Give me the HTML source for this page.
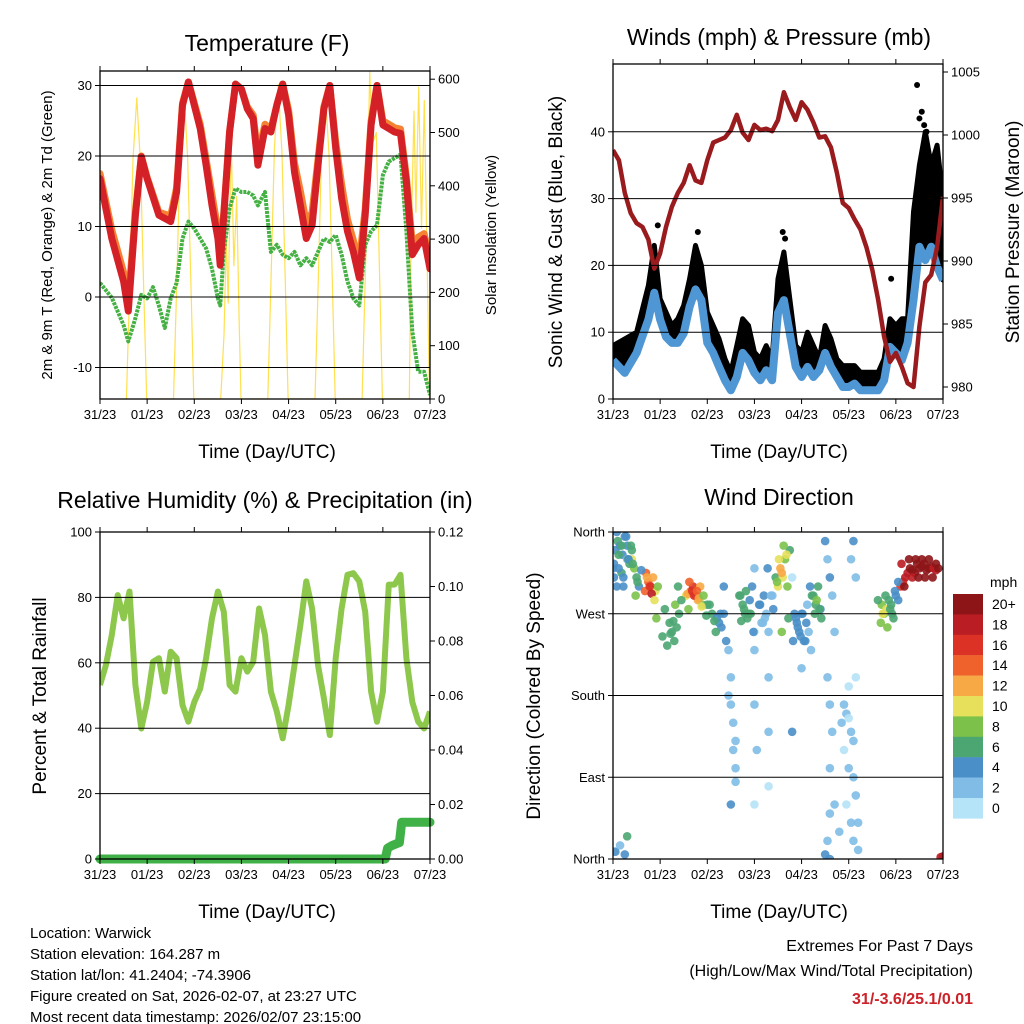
<!DOCTYPE html>
<html><head><meta charset="utf-8"><style>
html,body{margin:0;padding:0;background:#fff;}
svg{display:block;font-family:"Liberation Sans",sans-serif;}
</style></head><body>
<svg id="c" width="1024" height="1024" viewBox="0 0 1024 1024">
<rect x="0" y="0" width="1024" height="1024" fill="#fff"/>
<text x="267" y="51" font-size="23" text-anchor="middle">Temperature (F)</text>
<text x="779" y="45" font-size="23" text-anchor="middle">Winds (mph) &amp; Pressure (mb)</text>
<text x="265" y="508" font-size="23" text-anchor="middle">Relative Humidity (%) &amp; Precipitation (in)</text>
<text x="779" y="505" font-size="23" text-anchor="middle">Wind Direction</text>
<text x="267" y="458" font-size="19" text-anchor="middle">Time (Day/UTC)</text>
<text x="779" y="458" font-size="19" text-anchor="middle">Time (Day/UTC)</text>
<text x="267" y="918" font-size="19" text-anchor="middle">Time (Day/UTC)</text>
<text x="779" y="918" font-size="19" text-anchor="middle">Time (Day/UTC)</text>
<text transform="translate(52,235) rotate(-90)" font-size="15" text-anchor="middle">2m &amp; 9m T (Red, Orange) &amp; 2m Td (Green)</text>
<text transform="translate(496,235) rotate(-90)" font-size="15" text-anchor="middle">Solar Insolation (Yellow)</text>
<text transform="translate(562,232) rotate(-90)" font-size="19" text-anchor="middle">Sonic Wind &amp; Gust (Blue, Black)</text>
<text transform="translate(1019,232) rotate(-90)" font-size="19" text-anchor="middle">Station Pressure (Maroon)</text>
<text transform="translate(46,696) rotate(-90)" font-size="19" text-anchor="middle">Percent &amp; Total Rainfall</text>
<text transform="translate(540,696) rotate(-90)" font-size="19" text-anchor="middle">Direction (Colored By Speed)</text>
<g font-size="15">
<text x="30" y="938">Location: Warwick</text>
<text x="30" y="959">Station elevation: 164.287 m</text>
<text x="30" y="980">Station lat/lon: 41.2404; -74.3906</text>
<text x="30" y="1001">Figure created on Sat, 2026-02-07, at 23:27 UTC</text>
<text x="30" y="1022">Most recent data timestamp: 2026/02/07 23:15:00</text>
</g>
<text x="973" y="951" font-size="16" text-anchor="end">Extremes For Past 7 Days</text>
<text x="973" y="976" font-size="16" text-anchor="end">(High/Low/Max Wind/Total Precipitation)</text>
<text x="973" y="1004" font-size="16" font-weight="bold" fill="#cc2229" text-anchor="end">31/-3.6/25.1/0.01</text>
</svg>
<script>
const dayLabels=['31/23','01/23','02/23','03/23','04/23','05/23','06/23','07/23'];
// Temperature
const tempT=[0,.25,.5,.6,.75,.875,1,1.25,1.5,1.625,1.75,1.875,2,2.125,2.25,2.375,2.5,2.55,2.625,2.75,2.875,3,3.125,3.25,3.35,3.5,3.625,3.75,3.875,4,4.125,4.25,4.375,4.5,4.625,4.75,4.875,5,5.125,5.25,5.375,5.5,5.625,5.75,5.875,6,6.125,6.25,6.375,6.5,6.625,6.75,6.875,7];
const temp2m=[16.8,8.3,2.2,-2,11.6,19.9,16.8,11.6,10.7,14.9,27.2,30.5,27.2,23.9,18.7,13.0,8.3,4.5,11.6,23.4,30.2,29.5,26.7,25.3,18.7,23.9,23.4,27.2,30.2,25.8,17.7,13.0,8.3,10.2,18.7,26.7,30.0,21.1,14.0,9.3,6.4,2.7,11.6,24.4,30.0,24.4,23.9,23.4,23.2,16.3,6.0,7.4,8.3,4.0];
const temp9m=[17.5,9.5,3.5,-0.5,12,20,17,12,11.5,15.5,27.5,30.5,27.5,24.5,19.5,14.5,9.5,6,12,23.5,30.2,29.5,27,25.8,20,24.5,23.8,27.2,30.2,26.5,19,15,10.5,12,19.5,27,30,22,16,11,8,5,12.5,25,30,25,24.5,24,23.8,17,7.5,8.5,9,5];
const dewT=[0,.25,.5,.6,.75,.875,1,1.125,1.25,1.375,1.5,1.625,1.75,1.875,2,2.125,2.25,2.375,2.5,2.55,2.625,2.75,2.875,3,3.125,3.25,3.35,3.5,3.625,3.75,3.875,4,4.125,4.25,4.375,4.5,4.625,4.75,4.875,5,5.125,5.25,5.375,5.5,5.625,5.75,5.875,6,6.125,6.25,6.375,6.5,6.625,6.75,6.875,7];
const dewV=[2.0,-0.1,-4,-6.3,-3,0.3,-0.2,1.4,-1.2,-4.4,-0.2,2.0,8.3,10.7,9.7,8.3,6.9,4.0,-0.2,-1.2,6.4,12.6,15.4,14.9,14.9,14.4,13.0,14.9,6.4,7.4,6.0,5.5,6.4,4.5,5.5,4.5,6.4,8.3,7.8,8.8,6.0,2.2,-0.2,-1.2,7.4,9.3,10.2,17.3,19.2,19.7,20.2,9.3,-4.9,-10.6,-10.6,-13.9];
const solarT=[.56,.63,.7,.78,.86,.93,.99,1.56,1.63,1.7,1.78,1.86,1.93,1.99,2.56,2.63,2.68,2.72,2.78,2.84,2.9,2.95,2.99,3.56,3.63,3.7,3.78,3.86,3.93,3.99,4.56,4.63,4.7,4.78,4.86,4.93,4.99,5.56,5.63,5.68,5.72,5.78,5.86,5.93,5.99,6.56,6.6,6.66,6.7,6.76,6.82,6.88,6.94,6.99];
const solarV=[0,210,450,565,440,200,0,0,220,460,580,450,210,0,0,120,300,180,490,250,380,150,0,0,230,470,590,460,220,0,0,225,465,580,455,215,0,0,240,420,615,480,500,230,0,0,300,540,350,585,320,560,250,0];
const tempTicks=[30,20,10,0,-10];
const solarTicks=[0,100,200,300,400,500,600];
// Winds
const windT=[0,.25,.5,.75,.875,1,1.125,1.25,1.375,1.5,1.625,1.75,1.875,2,2.125,2.25,2.375,2.5,2.625,2.75,2.875,3,3.125,3.25,3.375,3.5,3.625,3.75,3.875,4,4.125,4.25,4.375,4.5,4.625,4.75,4.875,5,5.125,5.25,5.375,5.5,5.625,5.75,5.875,6,6.125,6.25,6.375,6.5,6.625,6.75,6.875,7];
const windV=[5.8,3.9,6.9,11.9,15.9,11.9,9.3,8.4,8.4,9.8,13.8,16.4,14.8,8.4,6.9,4.8,2.8,1.3,3.3,6.9,5.8,3.9,2.8,4.3,2.8,12.9,14.8,9.8,4.8,3.3,4.8,3.3,4.3,6.9,4.8,3.3,1.8,1.8,2.3,1.3,1.3,1.3,1.3,2.8,7.8,6.9,5.8,8.4,14.8,22.8,20.8,22.8,19.8,17.8];
const gustV=[8,9,10,17,23,15,13,11,12,14,18,23,20,13,11,9,6,4,8,12,11,7,6,8,6,18,22,15,8,7,10,8,6,11,9,6,5,5,5,4,4,4,4,6,12,11,12,12,28,35,40,35,38,30];
const gustOutT=[6.45,6.5,6.55,6.6,6.65,0.95,1.8,3.6,3.65,5.9];
const gustOutV=[47,42,43,41,40,26,25,25,24,18];
const pressT=[0,.125,.25,.375,.5,.625,.75,.875,1,1.125,1.25,1.375,1.5,1.625,1.75,1.875,2,2.125,2.25,2.375,2.5,2.625,2.75,2.875,3,3.125,3.25,3.375,3.5,3.625,3.75,3.875,4,4.125,4.25,4.375,4.5,4.625,4.75,4.875,5,5.125,5.25,5.375,5.5,5.625,5.75,5.875,6,6.125,6.25,6.375,6.5,6.625,6.75,6.875,7];
const pressV=[998.8,998.0,995.4,993.8,993.0,992.7,991.7,989.4,990.6,992.7,994.3,995.4,996.2,997.6,996.4,996.2,998.0,999.4,999.6,999.8,1000.4,1001.6,1000.2,999.6,1000.8,1000.4,1000.5,1000.3,1001.2,1003.4,1002.2,1001.2,1002.6,1002.0,1001.0,999.8,999.9,999.0,997.0,994.6,994.2,993.3,992.5,991.1,989.3,986.9,984.0,982.0,982.7,981.6,980.3,980.0,984.8,988.3,988.9,991.1,995.1];
const windTicks=[0,10,20,30,40];
const pressTicks=[980,985,990,995,1000,1005];
// Humidity & precipitation
const rhT=[0,.125,.25,.375,.5,.625,.75,.875,1,1.125,1.25,1.375,1.5,1.625,1.75,1.875,2,2.125,2.25,2.375,2.5,2.625,2.75,2.875,3,3.125,3.25,3.375,3.5,3.625,3.75,3.875,4,4.125,4.25,4.375,4.5,4.625,4.75,4.875,5,5.125,5.25,5.375,5.5,5.625,5.75,5.875,6,6.125,6.25,6.375,6.5,6.625,6.75,6.875,7];
const rhV=[53.2,59.3,68.5,80.7,73.6,81.8,53.2,39.9,48.0,60.3,61.4,51.2,63.4,61.4,47.1,42.0,48.0,52.1,61.4,73.6,81.8,75.6,53.2,51.2,61.4,57.3,60.3,76.6,68.5,51.2,45.1,36.9,47.1,59.3,71.6,84.9,76.6,59.3,49.1,37.9,61.4,76.6,86.9,87.4,84.9,75.6,51.2,42.0,51.2,83.9,83.9,86.9,61.4,48.0,42.0,39.9,45.1];
const precipT=[0,6.05,6.1,6.2,6.35,6.4,7];
const precipV=[0,0,0.004,0.005,0.006,0.0135,0.0135];
const rhTicks=[0,20,40,60,80,100];
const precipTicks=['0.00','0.02','0.04','0.06','0.08','0.10','0.12'];
// Wind direction (sparse scattered obs)
const dirTa=[0,.05,.1,.15,.2,.25,.3,.35,.4,.45,.5,.55,.7,.75,.8,.85,.9,.95,1.1,1.2,1.25,1.3,1.35,1.4,1.55,1.65,1.7,1.75,1.8,1.85,1.9,2.0,2.1,2.2,2.25,2.3,2.45,2.5,2.5,2.55,2.55,2.6,2.6,2.5,2.45,2.4,2.6,2.7,2.75,2.8,2.85,2.9,2.95,3.0,3.0,3.0,3.05,3.0,3.0,3.1,3.15,3.2,3.25,3.3,3.3,3.3,3.3,3.35,3.4,3.45,3.5,3.55,3.6,3.65,3.7,3.75,3.85,3.9,3.95,4.0,4.05,4.1,4.15,4.2,4.0,3.8,3.8,4.25,4.3,4.35,4.4,4.5,4.55,4.6,4.65,4.7,4.55,4.6,4.65,4.6,4.6,4.55,4.5,4.6,4.7,4.85,4.9,4.95,5.0,5.05,5.1,4.9,5.0,5.1,4.95,5.05,5.1,4.8,5.0,5.15,5.15,5.2,5.2,5.05,5.1,5.15,5.7,5.75,5.8,5.85,5.9,5.95,6.0,6.05,6.1,6.15,6.2,6.25,6.3,6.35,6.4,6.45,6.5,6.55,6.6,6.65,6.7,6.75,6.8,6.85,6.9,6.95,7.0,0.05,0.15,0.25,0.3,0.4,0.3,0.08,0.18,0.02,0.12,0.22,0.32];
const dirVa=[320,340,350,345,335,355,330,325,340,320,310,300,315,305,300,310,295,300,275,260,250,240,255,270,290,295,300,290,285,300,280,280,270,265,260,255,230,200,170,150,120,100,85,60,180,240,130,290,280,270,265,285,300,320,250,170,120,230,60,280,260,290,270,250,200,140,80,290,275,310,300,320,310,330,300,340,270,260,250,270,240,260,250,230,210,310,140,290,280,300,275,350,330,310,290,250,200,170,140,100,50,20,5,0,60,150,170,160,155,140,130,120,100,90,60,40,20,30,190,200,70,40,10,330,350,310,280,270,275,285,280,265,290,285,300,305,310,315,320,318,315,325,320,322,325,318,320,322,320,318,320,2,3,8,15,5,25,330,345,300,315,325,335];
const dirSa=[4,5,6,5,4,5,3,6,7,8,7,5,14,15,17,12,10,8,7,7,6,6,7,6,10,14,16,16,12,12,8,6,6,5,4,4,2,3,2,3,2,2,3,4,3,4,2,6,6,7,6,5,4,2,1,2,2,2,1,4,3,4,3,2,3,2,1,3,4,6,10,12,10,9,8,7,4,4,4,5,4,5,3,2,3,1,4,6,7,6,5,4,3,4,2,2,3,2,2,2,3,3,4,4,2,2,2,2,1,2,2,1,2,2,1,2,3,3,1,1,3,3,2,3,4,3,8,9,10,6,7,6,5,4,16,17,18,19,20,20,20,21,21,20,20,20,20,20,19,19,20,19,19,4,3,5,6,10,4,5,6,4,7,5,6];
// Wind direction (dense cluster obs)
const dirTb=[0.02,0.08,0.12,0.18,0.22,0.28,0.33,0.38,0.42,0.48,0.52,0.6,0.68,0.72,0.78,0.82,0.88,0.92,1.05,1.15,1.22,1.28,1.32,1.38,1.45,1.58,1.62,1.68,1.72,1.78,1.82,1.88,1.92,1.6,1.98,2.05,2.15,2.18,2.28,2.35,2.35,2.68,2.72,2.78,2.82,2.88,2.92,2.98,3.12,3.18,3.22,3.28,3.38,3.48,3.52,3.58,3.62,3.68,3.72,3.58,3.82,3.88,3.92,3.98,4.02,4.08,4.12,4.18,4.22,4.28,4.32,4.38,4.42,5.62,5.68,5.72,5.78,5.82,5.88,5.92,5.98,6.05,6.12,6.18,6.28,6.35,6.42,6.48,6.55,6.62,6.7,6.78,6.85,6.92,6.98];
const dirVb=[300,330,310,360,320,345,310,355,330,345,325,290,305,318,295,310,300,292,285,265,245,235,248,262,280,300,285,292,305,295,290,295,287,278,290,275,268,280,262,250,270,300,270,290,262,275,295,270,270,250,280,260,265,320,290,305,330,315,345,335,265,250,240,265,255,245,270,240,280,300,290,270,285,275,265,285,260,270,290,255,275,270,295,305,325,300,330,310,330,310,330,310,330,310,325];
const dirSb=[4,5,4,6,5,4,5,7,6,8,7,4,14,13,16,18,11,9,7,6,7,6,8,6,7,12,15,16,17,15,13,10,9,8,7,6,7,6,5,4,5,6,7,7,6,7,6,5,4,3,3,4,3,9,11,13,8,10,7,8,4,5,4,4,5,4,3,4,7,6,8,6,6,7,8,10,7,8,7,6,5,4,18,20,20,19,20,20,20,21,20,20,20,19,20];
const dirT=dirTa.concat(dirTb);
const dirV=dirVa.concat(dirVb);
const dirS=dirSa.concat(dirSb);
const dirLabels=['North','East','South','West','North'];
const speedLabels=['0','2','4','6','8','10','12','14','16','18','20+'];
const speedColors=['#b5e3f7','#80bce6','#4a8fc8','#4ba672','#7cc24a','#e6e05a','#f7a945','#ef622b','#dc3226','#ba1d24','#8d1518'];

const svg=document.getElementById('c');
const NS='http://www.w3.org/2000/svg';
function mk(tag,attrs,parent){const e=document.createElementNS(NS,tag);for(const k in attrs)e.setAttribute(k,attrs[k]);(parent||svg).appendChild(e);return e;}
function pathD(ts,vs,fx,fy){let d='';for(let i=0;i<ts.length;i++){d+=(i?'L':'M')+fx(ts[i]).toFixed(1)+','+fy(vs[i]).toFixed(1);}return d;}

function panel(name,x0,x1,y0,y1){
  const g=mk('g',{});
  
  
  const cl=mk('clipPath',{id:name+'-clip'},g);
  mk('rect',{x:x0,y:y0,width:x1-x0,height:y1-y0},cl);
  const body=mk('g',{'clip-path':'url(#'+name+'-clip)'},g);
  
  
  return {g,body,x0,x1,y0,y1,sx:t=>x0+t*(x1-x0)/7};
}
function xAxis(p){
  for(let i=0;i<dayLabels.length;i++){
    const x=p.sx(i);
    const tk=mk('line',{x1:x,x2:x,y1:p.y1,y2:p.y1+5,stroke:'#000','stroke-width':1},p.g);
    
    
    const tt=mk('line',{x1:x,x2:x,y1:p.y0,y2:p.y0-5,stroke:'#000','stroke-width':1},p.g);
    
    
    const lb=mk('text',{x:x,y:p.y1+20,'font-size':13,'text-anchor':'middle'},p.g);
    lb.textContent=dayLabels[i];
    
    
  }
}
function yTicks(p,vals,fy,side,labels,grid){
  for(let i=0;i<vals.length;i++){
    const y=fy(vals[i]);
    if(grid && y>p.y0+1 && y<p.y1-1){
      const gl=mk('line',{x1:p.x0,x2:p.x1,y1:y,y2:y,stroke:'#000','stroke-width':1},p.g);
      
      
    }
    const xa=side==='l'?p.x0:p.x1, dx=side==='l'?-5:5;
    const tk=mk('line',{x1:xa,x2:xa+dx,y1:y,y2:y,stroke:'#000','stroke-width':1},p.g);
    
    
    const lb=mk('text',{x:xa+dx*1.6,y:y+4.5,'font-size':13,'text-anchor':side==='l'?'end':'start'},p.g);
    lb.textContent=labels?labels[i]:String(vals[i]);
    
    
  }
}
function frame(p){
  const r=mk('rect',{x:p.x0,y:p.y0,width:p.x1-p.x0,height:p.y1-p.y0,fill:'none',stroke:'#000','stroke-width':1.3},p.g);
  
  
}

// Panel 1: Temperature
const p1=panel('temperature-panel',100,430,71,399);
const t1=v=>297-v*7.05, s1=v=>399-v*0.533;
const solarLine=mk('path',{d:pathD(solarT,solarV,p1.sx,s1),fill:'none',stroke:'#ffe04f','stroke-width':1.2,'stroke-linejoin':'round'},p1.body);


const dewLine=mk('path',{d:pathD(dewT,dewV,p1.sx,t1),fill:'none',stroke:'#45b043','stroke-width':4,'stroke-dasharray':'3 1','stroke-linejoin':'round'},p1.body);


const t9Line=mk('path',{d:pathD(tempT,temp9m,p1.sx,t1),fill:'none',stroke:'#f58232','stroke-width':7,'stroke-linejoin':'round','stroke-linecap':'round'},p1.body);


const t2Line=mk('path',{d:pathD(tempT,temp2m,p1.sx,t1),fill:'none',stroke:'#d42027','stroke-width':7,'stroke-linejoin':'round','stroke-linecap':'round'},p1.body);


yTicks(p1,tempTicks,t1,'l',null,true);
yTicks(p1,solarTicks,s1,'r',null,false);
xAxis(p1);frame(p1);

// Panel 2: Winds & Pressure
const p2=panel('winds-panel',613,943,64,399);
const w2=v=>399-v*6.68, pr2=v=>72+(1005-v)*12.6;
let bd=pathD(windT,windV,p2.sx,w2);
for(let i=windT.length-1;i>=0;i--){bd+='L'+p2.sx(windT[i]).toFixed(1)+','+w2(gustV[i]).toFixed(1);}
const gustBand=mk('path',{d:bd+'Z',fill:'#000',stroke:'#000','stroke-width':5,'stroke-linejoin':'round'},p2.body);


for(let i=0;i<gustOutT.length;i++){
  const c=mk('circle',{cx:p2.sx(gustOutT[i]),cy:w2(gustOutV[i]),r:3,fill:'#000'},p2.body);
  
  
}
const windLine=mk('path',{d:pathD(windT,windV,p2.sx,w2),fill:'none',stroke:'#4f97d4','stroke-width':8,'stroke-linejoin':'round'},p2.body);


const pressLine=mk('path',{d:pathD(pressT,pressV,p2.sx,pr2),fill:'none',stroke:'#9a1b1e','stroke-width':4.5,'stroke-linejoin':'round'},p2.body);


yTicks(p2,windTicks,w2,'l',null,true);
yTicks(p2,pressTicks,pr2,'r',null,false);
xAxis(p2);frame(p2);

// Panel 3: RH & precipitation
const p3=panel('humidity-panel',100,430,532,859);
const r3=v=>859-v*3.27, pc3=v=>859-v*2725;
const rhLine=mk('path',{d:pathD(rhT,rhV,p3.sx,r3),fill:'none',stroke:'#8dc84c','stroke-width':6,'stroke-linejoin':'round'},p3.body);


const prLine=mk('path',{d:pathD(precipT,precipV,p3.sx,pc3),fill:'none',stroke:'#3fb146','stroke-width':9,'stroke-linejoin':'round','stroke-linecap':'round'},p3.g);


yTicks(p3,rhTicks,r3,'l',null,true);
yTicks(p3,precipTicks.map(Number),pc3,'r',precipTicks,false);
xAxis(p3);frame(p3);

// Panel 4: Wind direction
const p4=panel('wind-direction-panel',613,943,532,859);
const d4=v=>859-v*327/360;
for(let i=0;i<dirT.length;i++){
  const bin=Math.min(10,Math.floor(dirS[i]/2));
  const c=mk('circle',{cx:p4.sx(dirT[i]),cy:d4(dirV[i]),r:4.3,fill:speedColors[bin],'fill-opacity':0.9},p4.body);
  
  
}
yTicks(p4,[0,90,180,270,360],d4,'l',dirLabels,true);
xAxis(p4);frame(p4);

// Color bar
const cbTitle=mk('text',{x:990,y:587,'font-size':14});
cbTitle.textContent='mph';


for(let i=0;i<speedLabels.length;i++){
  const j=speedLabels.length-1-i;
  const y=594+i*20.4;
  const r=mk('rect',{x:953,y:y,width:30,height:20.6,fill:speedColors[j]});
  
  
  const t=mk('text',{x:992,y:y+15,'font-size':14});
  t.textContent=speedLabels[j];
  
  
}
</script>
</body></html>
